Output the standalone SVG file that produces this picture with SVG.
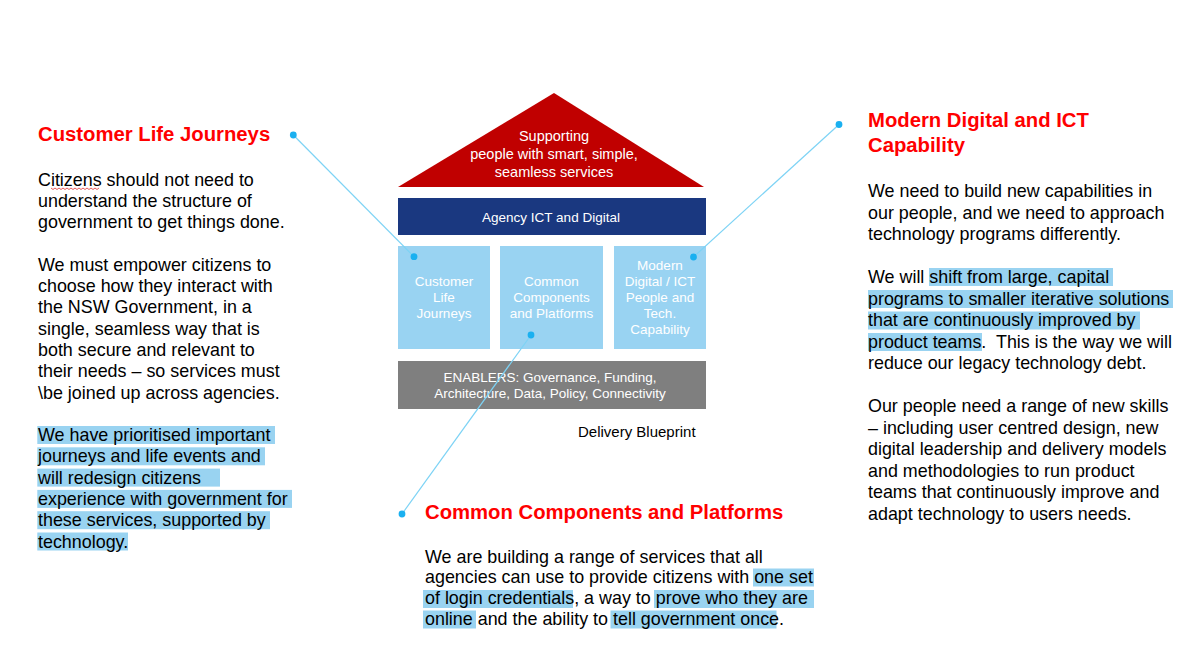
<svg xmlns="http://www.w3.org/2000/svg" width="1200" height="646" viewBox="0 0 1200 646">
<style>
text{font-family:"Liberation Sans",Arial,sans-serif}
.h{font-size:20.3px;font-weight:bold;fill:#FF0000}
.b{font-size:17.9px;fill:#000}
.w{font-size:13.5px;fill:#fff;text-anchor:middle}
.roof{font-size:14.5px;fill:#fff;text-anchor:middle}
.hl{fill:#99D3F1}
.con{stroke:#7DD3F5;stroke-width:1.2;fill:none}
.dot{fill:#1AB0F0}
</style>
<rect width="1200" height="646" fill="#fff"/>

<g id="roof">
<polygon points="554,93 704,187 398,187" fill="#C00000"/>
<text class="roof" x="554" y="141">Supporting</text>
<text class="roof" x="554" y="159">people with smart, simple,</text>
<text class="roof" x="554" y="177">seamless services</text>
</g>

<g id="agency">
<rect x="398" y="198" width="308" height="37" fill="#1A3880"/>
<text class="w" x="551" y="222">Agency ICT and Digital</text>
</g>

<g id="box-customer">
<rect x="398" y="246" width="92" height="103" fill="#99D3F2"/>
<text class="w" x="444" y="286">Customer</text>
<text class="w" x="444" y="302">Life</text>
<text class="w" x="444" y="318">Journeys</text>
</g>

<g id="box-common">
<rect x="500" y="246" width="103" height="103" fill="#99D3F2"/>
<text class="w" x="551.5" y="286">Common</text>
<text class="w" x="551.5" y="302">Components</text>
<text class="w" x="551.5" y="318">and Platforms</text>
</g>

<g id="box-modern">
<rect x="614" y="246" width="92" height="103" fill="#99D3F2"/>
<text class="w" x="660" y="270">Modern</text>
<text class="w" x="660" y="286">Digital / ICT</text>
<text class="w" x="660" y="302">People and</text>
<text class="w" x="660" y="318">Tech.</text>
<text class="w" x="660" y="334">Capability</text>
</g>

<g id="enablers">
<rect x="398" y="361" width="308" height="48" fill="#7F7F7F"/>
<text class="w" x="550" y="382">ENABLERS: Governance, Funding,</text>
<text class="w" x="550" y="398">Architecture, Data, Policy, Connectivity</text>
</g>

<g id="caption">
<text x="578" y="437" font-size="15" fill="#000">Delivery Blueprint</text>
</g>

<g id="connectors">
<line class="con" x1="293.3" y1="135" x2="414" y2="256.7"/>
<line class="con" x1="839" y1="124.5" x2="693.5" y2="257"/>
<line class="con" x1="531" y1="335" x2="402" y2="514"/>
<circle class="dot" cx="293.3" cy="135" r="3.4"/>
<circle class="dot" cx="414" cy="256.7" r="3.4"/>
<circle class="dot" cx="839" cy="124.5" r="3.4"/>
<circle class="dot" cx="693.5" cy="257" r="3.4"/>
<circle class="dot" cx="531" cy="335" r="3.4"/>
<circle class="dot" cx="402" cy="514" r="3.4"/>
</g>

<g id="text-customer">
<rect class="hl" x="37.3" y="426" width="237.7" height="18"/>
<rect class="hl" x="37.3" y="447.3" width="227.7" height="18"/>
<rect class="hl" x="37.3" y="468.6" width="182.7" height="18"/>
<rect class="hl" x="37.3" y="489.9" width="254.7" height="18"/>
<rect class="hl" x="37.3" y="511.2" width="232.7" height="18"/>
<rect class="hl" x="37.3" y="532.5" width="90.7" height="18"/>
<text class="h" x="38" y="141">Customer Life Journeys</text>
<path d="M51,188 l2,1.5 l2,-1.5 l2,1.5 l2,-1.5 l2,1.5 l2,-1.5 l2,1.5 l2,-1.5 l2,1.5 l2,-1.5 l2,1.5 l2,-1.5 l2,1.5 l2,-1.5 l2,1.5 l2,-1.5 l2,1.5 l2,-1.5 l2,1.5 l2,-1.5 l2,1.5 l2,-1.5 l2,1.5 l2,-1.5" stroke="#E03030" stroke-width="0.8" fill="none"/>
<text class="b" x="38" y="185.5">Citizens should not need to</text>
<text class="b" x="38" y="206.8">understand the structure of</text>
<text class="b" x="38" y="228.1">government to get things done.</text>
<text class="b" x="38" y="270.7">We must empower citizens to</text>
<text class="b" x="38" y="292">choose how they interact with</text>
<text class="b" x="38" y="313.3">the NSW Government, in a</text>
<text class="b" x="38" y="334.6">single, seamless way that is</text>
<text class="b" x="38" y="355.9">both secure and relevant to</text>
<text class="b" x="38" y="377.2">their needs – so services must</text>
<text class="b" x="38" y="398.5">\be joined up across agencies.</text>
<text class="b" x="38" y="441">We have prioritised important</text>
<text class="b" x="38" y="462.3">journeys and life events and</text>
<text class="b" x="38" y="483.6">will redesign citizens</text>
<text class="b" x="38" y="504.9">experience with government for</text>
<text class="b" x="38" y="526.2">these services, supported by</text>
<text class="b" x="38" y="547.5">technology.</text>
</g>

<g id="text-modern">
<rect class="hl" x="929" y="268" width="184" height="18"/>
<rect class="hl" x="868" y="290" width="305" height="18"/>
<rect class="hl" x="868" y="311.5" width="272" height="18"/>
<rect class="hl" x="868" y="333" width="114" height="18"/>
<text class="h" x="868" y="127">Modern Digital and ICT</text>
<text class="h" x="868" y="152">Capability</text>
<text class="b" x="868" y="197">We need to build new capabilities in</text>
<text class="b" x="868" y="218.5">our people, and we need to approach</text>
<text class="b" x="868" y="240">technology programs differently.</text>
<text class="b" x="868" y="283">We will shift from large, capital</text>
<text class="b" x="868" y="304.5">programs to smaller iterative solutions</text>
<text class="b" x="868" y="326">that are continuously improved by</text>
<text class="b" x="868" y="347.5" xml:space="preserve">product teams.  This is the way we will</text>
<text class="b" x="868" y="369">reduce our legacy technology debt.</text>
<text class="b" x="868" y="412">Our people need a range of new skills</text>
<text class="b" x="868" y="433.5">– including user centred design, new</text>
<text class="b" x="868" y="455">digital leadership and delivery models</text>
<text class="b" x="868" y="476.5">and methodologies to run product</text>
<text class="b" x="868" y="498">teams that continuously improve and</text>
<text class="b" x="868" y="519.5">adapt technology to users needs.</text>
</g>

<g id="text-common">
<rect class="hl" x="753" y="568.5" width="61" height="18"/>
<rect class="hl" x="423" y="590" width="150" height="18"/>
<rect class="hl" x="654" y="590" width="160" height="18"/>
<rect class="hl" x="423" y="610.5" width="53" height="18"/>
<rect class="hl" x="610.5" y="610.5" width="166" height="18"/>
<text class="h" x="425" y="519">Common Components and Platforms</text>
<text class="b" x="425" y="563">We are building a range of services that all</text>
<text class="b" x="425" y="582.5">agencies can use to provide citizens with one set</text>
<text class="b" x="425" y="604">of login credentials, a way to prove who they are</text>
<text class="b" x="425" y="624.5">online and the ability to tell government once.</text>
</g>
</svg>
